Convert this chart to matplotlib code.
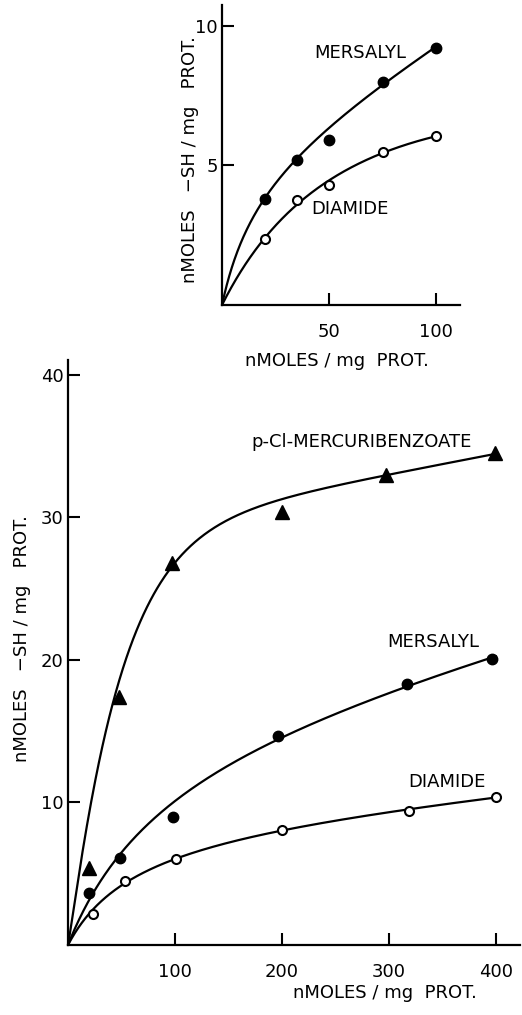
import numpy as np
import matplotlib
matplotlib.use("Agg")
import matplotlib.pyplot as plt

plt.rcParams['font.family'] = ['DejaVu Sans']

# ---------------- data: upper panel ----------------
top_mers_x = [20, 35, 50, 75, 100]
top_mers_y = [3.8, 5.2, 5.9, 8.0, 9.2]
top_dia_x = [20, 35, 50, 75, 100]
top_dia_y = [2.35, 3.75, 4.3, 5.5, 6.05]
# hand-drawn curves, points
top_mers_curve_x = [0, 5, 20, 35, 50, 75, 100]
top_mers_curve_y = [0, 1.45, 3.85, 5.2, 6.3, 8.0, 9.2]
top_dia_curve_x = [0, 6, 20, 35, 50, 75, 100]
top_dia_curve_y = [0, 0.85, 2.35, 3.7, 4.4, 5.45, 6.05]
top_xticks = [50, 100]
top_yticks = [5, 10]

# ---------------- data: lower panel ----------------
pcmb_x = [20, 48, 97, 200, 297, 399]
pcmb_y = [5.4, 17.4, 26.8, 30.4, 33.0, 34.5]
mers_x = [20, 49, 98, 196, 317, 396]
mers_y = [3.65, 6.1, 9.0, 14.7, 18.3, 20.05]
dia_x = [23, 53, 101, 200, 319, 400]
dia_y = [2.2, 4.5, 6.05, 8.07, 9.4, 10.4]
pcmb_curve_x = [0, 10, 20, 35, 48, 55, 72, 87, 100, 150, 200, 300, 400]
pcmb_curve_y = [0, 5.2, 9.9, 14.5, 17.8, 20.0, 23.8, 26.1, 27.2, 29.6, 30.9, 33.0, 34.6]
mers_curve_x = [0, 8, 20, 50, 70, 100, 150, 200, 317, 400]
mers_curve_y = [0, 1.75, 3.7, 6.3, 7.8, 10.0, 12.6, 14.8, 18.3, 20.1]
dia_curve_x = [0, 10, 23, 53, 101, 150, 200, 319, 400]
dia_curve_y = [0, 1.25, 2.35, 4.45, 6.05, 7.15, 8.07, 9.45, 10.4]
bot_xticks = [100, 200, 300, 400]
bot_yticks = [10, 20, 30, 40]

xlabel = "nMOLES / mg  PROT."
ylabel = "nMOLES   \u2212SH / mg   PROT."

FS = 13
TFS = 13


def fit_saturating(xs, ys):
    """Least-squares a*x/(b+x) + c*x through the read curve points."""
    x = np.asarray(xs, float); y = np.asarray(ys, float)
    best = None
    for b in np.linspace(1, 600, 1200):
        A = np.column_stack([x / (b + x), x])
        coef, *_ = np.linalg.lstsq(A, y, rcond=None)
        err = np.sum((A @ coef - y) ** 2)
        if best is None or err < best[0]:
            best = (err, b, coef)
    _, b, (a, c) = best
    return lambda t: a * t / (b + t) + c * t


def fit_exponential(xs, ys):
    """Least-squares a*(1-exp(-(x/k)^p)) + c*x through the read curve points."""
    x = np.asarray(xs, float); y = np.asarray(ys, float)
    best = None
    for p in np.arange(0.8, 1.61, 0.02):
        for k in np.linspace(10, 200, 381):
            A = np.column_stack([1 - np.exp(-(x / k) ** p), x])
            coef, *_ = np.linalg.lstsq(A, y, rcond=None)
            err = np.sum((A @ coef - y) ** 2)
            if best is None or err < best[0]:
                best = (err, p, k, coef)
    _, p, k, (a, c) = best
    return lambda t: a * (1 - np.exp(-(t / k) ** p)) + c * t


def draw_curve(ax, xs, ys, kind='sat'):
    f = fit_saturating(xs, ys) if kind == 'sat' else fit_exponential(xs, ys)
    t = np.linspace(0, xs[-1], 500)
    ax.plot(t, f(t), color='black', lw=1.6, solid_capstyle='round',
            clip_on=False, zorder=2)


def style_axes(ax):
    for s in ['top', 'right']:
        ax.spines[s].set_visible(False)
    for s in ['left', 'bottom']:
        ax.spines[s].set_linewidth(1.6)
    ax.tick_params(direction='in', length=8.5, width=1.5, labelsize=TFS)
    ax.tick_params(axis='x', pad=13)
    ax.tick_params(axis='y', pad=3)


fig = plt.figure(figsize=(5.22, 10.15), dpi=100)

# ---------------- upper panel ----------------
ax1 = fig.add_axes([222 / 522, 1 - 305 / 1015, 238 / 522, 300 / 1015])
ax1.set_xlim(0, 111.2)
ax1.set_ylim(0, 10.75)
style_axes(ax1)
ax1.set_xticks(top_xticks)
ax1.set_yticks(top_yticks)
draw_curve(ax1, top_mers_curve_x, top_mers_curve_y)
draw_curve(ax1, top_dia_curve_x, top_dia_curve_y)
ax1.plot(top_mers_x, top_mers_y, 'o', color='black', ms=7.5, clip_on=False, zorder=3)
ax1.plot(top_dia_x, top_dia_y, 'o', mfc='white', mec='black', mew=1.5, ms=6.5,
         clip_on=False, zorder=3)
ax1.text(64.5, 9.03, "MERSALYL", fontsize=FS, ha='center', va='center')
ax1.text(59.8, 3.44, "DIAMIDE", fontsize=FS, ha='center', va='center')
fig.text(337 / 522, 1 - 361 / 1015, xlabel, fontsize=FS, ha='center', va='center')
fig.text(190 / 522, 1 - 160 / 1015, ylabel, fontsize=FS, ha='center', va='center',
         rotation=90)

# ---------------- lower panel ----------------
ax2 = fig.add_axes([68 / 522, 1 - 945 / 1015, 452 / 522, 585 / 1015])
ax2.set_xlim(0, 422.4)
ax2.set_ylim(0, 41.05)
style_axes(ax2)
ax2.set_xticks(bot_xticks)
ax2.set_yticks(bot_yticks)
draw_curve(ax2, pcmb_curve_x, pcmb_curve_y, kind='exp')
draw_curve(ax2, mers_curve_x, mers_curve_y)
draw_curve(ax2, dia_curve_x, dia_curve_y)
ax2.plot(pcmb_x, pcmb_y, '^', color='black', ms=10, clip_on=False, zorder=3)
ax2.plot(mers_x, mers_y, 'o', color='black', ms=7.5, clip_on=False, zorder=3)
ax2.plot(dia_x, dia_y, 'o', mfc='white', mec='black', mew=1.5, ms=6.5,
         clip_on=False, zorder=3)
ax2.text(274, 35.3, "p-Cl-MERCURIBENZOATE", fontsize=FS, ha='center', va='center')
ax2.text(341, 21.26, "MERSALYL", fontsize=FS, ha='center', va='center')
ax2.text(354, 11.44, "DIAMIDE", fontsize=FS, ha='center', va='center')
fig.text(385 / 522, 1 - 993 / 1015, xlabel, fontsize=FS, ha='center', va='center')
fig.text(22 / 522, 1 - 639 / 1015, ylabel, fontsize=FS, ha='center', va='center',
         rotation=90)

fig.savefig("out.png", dpi=100)
